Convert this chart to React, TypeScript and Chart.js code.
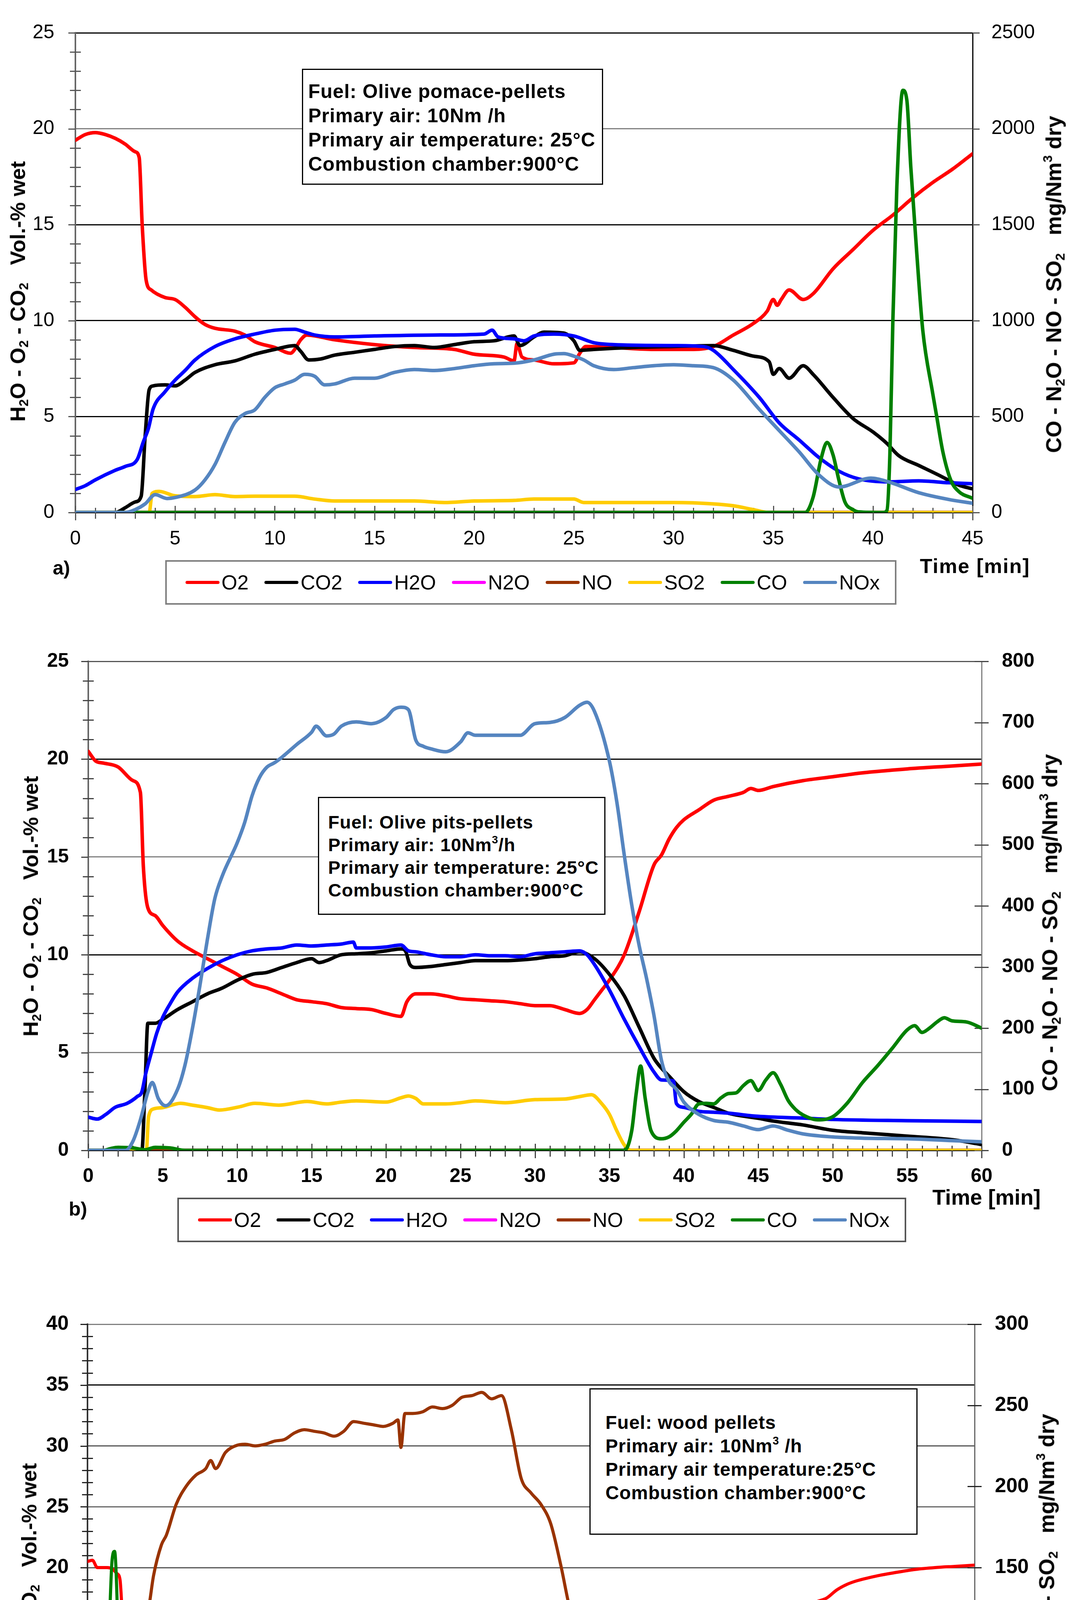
import { useEffect, useRef } from "react";
import { Chart, registerables } from "chart.js";

Chart.register(...registerables);

const FONT = "'Liberation Sans', Arial, Helvetica, sans-serif";
const PAGE_W = 2747;
const PAGE_H = 4847;

const COLORS: Record<string, string> = {
  O2: "#ff0000",
  CO2: "#000000",
  H2O: "#0000ff",
  N2O: "#ff00ff",
  NO: "#993300",
  SO2: "#ffcc00",
  CO: "#008000",
  NOx: "#5585c0",
};

// ---------- a) olive pomace pellets ----------
const aXTicks = [0, 5, 10, 15, 20, 25, 30, 35, 40, 45];
const aLeftTicks = [0, 5, 10, 15, 20, 25];
const aRightTicks = [0, 500, 1000, 1500, 2000, 2500];

const aO2T = [0, 0.5, 1, 1.5, 2, 2.5, 3, 3.2, 3.35, 3.55, 3.8, 4.5, 5, 5.5, 6, 6.5, 7, 8, 8.5, 9, 10, 10.8, 11, 11.3, 11.6, 13, 15, 17, 19, 20, 21.5, 22, 22.15, 22.4, 23, 24, 25, 25.3, 25.6, 27, 29, 31, 32, 33, 34, 34.7, 35, 35.2, 35.4, 35.8, 36.5, 37, 38, 39, 40, 41, 42, 43, 44, 45];
const aO2 = [19.4, 19.7, 19.8, 19.7, 19.5, 19.2, 18.8, 18.5, 15, 12.1, 11.6, 11.2, 11.1, 10.7, 10.2, 9.8, 9.6, 9.45, 9.25, 8.9, 8.6, 8.3, 8.5, 9.0, 9.25, 9.0, 8.75, 8.6, 8.5, 8.25, 8.1, 7.9, 8.8, 8.1, 7.95, 7.75, 7.8, 8.3, 8.65, 8.6, 8.5, 8.5, 8.65, 9.25, 9.85, 10.5, 11.1, 10.8, 11.1, 11.6, 11.1, 11.4, 12.7, 13.7, 14.7, 15.5, 16.4, 17.2, 17.9, 18.7];

const aCO2T = [0, 2, 2.5, 3, 3.3, 3.5, 3.7, 3.9, 4.5, 5, 5.5, 6, 7, 8, 9, 10, 11, 11.3, 11.7, 12.3, 13, 14, 15, 16, 17, 18, 19, 20, 21, 22, 22.3, 23, 23.5, 24.5, 25, 25.3, 26, 28, 30, 32, 33, 34, 34.8, 35, 35.3, 35.8, 36.5, 37, 38, 39, 40, 40.7, 41.3, 42.3, 43.3, 44.3, 45];
const aCO2 = [0, 0, 0.25, 0.55, 0.85, 4, 6.4, 6.6, 6.65, 6.6, 6.9, 7.3, 7.7, 7.9, 8.25, 8.5, 8.7, 8.4, 7.95, 8.0, 8.2, 8.35, 8.5, 8.65, 8.7, 8.6, 8.75, 8.9, 8.95, 9.2, 8.7, 9.15, 9.4, 9.35, 8.95, 8.45, 8.5, 8.6, 8.65, 8.7, 8.45, 8.15, 7.85, 7.2, 7.5, 7.0, 7.65, 7.2, 6.0, 4.9, 4.2, 3.6, 2.96, 2.45, 1.95, 1.43, 1.23];

const aH2OT = [0, 0.5, 1, 2, 2.5, 3.1, 3.4, 3.66, 3.9, 4.5, 5, 5.5, 6, 7, 8, 9, 10, 11, 11.5, 12, 13, 15, 18, 20.5, 20.9, 21.2, 22, 22.5, 23, 24, 25, 26, 27, 30, 31.5, 32, 33, 34.3, 35.3, 36.3, 37.3, 38.3, 39.3, 40.8, 42.3, 43.8, 45];
const aH2O = [1.2, 1.4, 1.7, 2.2, 2.4, 2.76, 3.66, 4.37, 5.4, 6.3, 6.9, 7.4, 7.95, 8.65, 9.05, 9.3, 9.5, 9.55, 9.4, 9.25, 9.15, 9.2, 9.25, 9.3, 9.5, 9.15, 9.05, 8.95, 9.2, 9.3, 9.2, 8.85, 8.75, 8.7, 8.65, 8.45, 7.45, 6.0, 4.67, 3.78, 2.86, 2.15, 1.75, 1.6, 1.65, 1.55, 1.5];

const aN2OT = [0, 45];
const aN2O = [0, 0];
const aNOT = [0, 45];
const aNO = [0, 0];

const aSO2T = [0, 3.7, 3.85, 4.2, 5, 6, 7, 8, 9, 11, 12, 13, 15, 17, 18.5, 20, 22, 23, 25, 25.5, 27, 30, 32, 33, 34, 34.8, 45];
const aSO2 = [0, 0, 100, 110, 87, 83, 93, 83, 85, 85, 70, 60, 60, 60, 52, 60, 63, 70, 70, 52, 52, 52, 45, 35, 15, 0, 0];

const aCOT = [0, 36.6, 37, 37.4, 37.7, 38, 38.3, 38.6, 39, 39.3, 40.5, 40.7, 40.85, 41, 41.2, 41.5, 41.7, 41.9, 42.2, 42.5, 43, 43.2, 43.5, 43.9, 44.3, 45];
const aCO = [0, 0, 80, 280, 365, 300, 166, 54, 15, 3, 0, 10, 300, 1000, 1700, 2200, 2150, 1800, 1350, 950, 620, 500, 320, 170, 110, 74];

const aNOxT = [0, 2.5, 3, 3.5, 4, 4.6, 5, 6, 6.5, 7, 7.5, 8, 8.5, 9, 9.5, 10, 10.5, 11, 11.5, 12, 12.5, 13, 14, 15, 16, 17, 18, 19, 20, 21, 22, 23, 24, 24.5, 25, 25.5, 26, 27, 28, 29, 30, 31, 32, 33, 34.3, 35.3, 36.3, 37.3, 38.3, 39.9, 40.8, 42.3, 43.8, 45];
const aNOx = [0, 0, 15, 45, 93, 73, 78, 117, 170, 250, 365, 470, 515, 535, 600, 650, 670, 690, 720, 710, 665, 670, 700, 700, 730, 745, 740, 750, 765, 775, 778, 795, 825, 828, 815, 795, 765, 745, 755, 765, 770, 765, 755, 690, 538, 427, 316, 195, 133, 179, 159, 103, 68, 48];

// ---------- b) olive pits pellets ----------
const bXTicks = [0, 5, 10, 15, 20, 25, 30, 35, 40, 45, 50, 55, 60];
const bLeftTicks = [0, 5, 10, 15, 20, 25];
const bRightTicks = [0, 100, 200, 300, 400, 500, 600, 700, 800];

const bO2T = [0, 0.5, 1, 2, 3, 3.5, 3.7, 4, 4.5, 5, 6, 7, 8, 9, 10, 11, 12, 13, 14, 15, 16, 17, 18, 19, 20, 21, 21.4, 22, 23, 24, 25, 26, 27, 28, 29, 30, 31, 32, 33, 33.5, 34, 34.5, 35, 36, 37, 38, 38.5, 39, 39.5, 40, 41, 42, 43, 44, 44.5, 45, 46, 48, 50, 52, 55, 58, 60];
const bO2 = [20.4, 19.9, 19.8, 19.6, 18.9, 18.3, 14.5, 12.4, 12.0, 11.5, 10.7, 10.2, 9.8, 9.4, 9.0, 8.5, 8.3, 8.0, 7.7, 7.6, 7.5, 7.3, 7.25, 7.2, 7.0, 6.85, 7.6, 8.0, 8.0, 7.9, 7.75, 7.7, 7.65, 7.6, 7.5, 7.4, 7.4, 7.2, 7.0, 7.2, 7.7, 8.2, 8.7, 10.0, 12.2, 14.6, 15.1, 15.9, 16.5, 16.9, 17.4, 17.9, 18.1, 18.3, 18.5, 18.4, 18.6, 18.9, 19.1, 19.3, 19.5, 19.65, 19.75];

const bCO2T = [0, 3.6, 3.8, 4, 4.5, 5, 6, 7, 8, 9, 10, 11, 12, 13, 14, 15, 15.5, 16, 17, 18, 19, 20, 21, 21.3, 21.6, 22, 23, 24, 25, 26, 28, 30, 31, 32, 33, 34, 35, 36, 37, 38, 38.5, 39, 40, 41, 42, 43, 44, 45, 46, 48, 50, 52, 55, 58, 60];
const bCO2 = [0, 0, 3.0, 6.5, 6.5, 6.7, 7.2, 7.6, 8.0, 8.3, 8.7, 9.0, 9.1, 9.35, 9.6, 9.8, 9.6, 9.7, 10.0, 10.05, 10.1, 10.2, 10.3, 10.2, 9.5, 9.35, 9.4, 9.5, 9.6, 9.7, 9.7, 9.8, 9.9, 9.95, 10.15, 9.8, 9.0, 7.9, 6.3, 4.7, 4.2, 3.8, 3.0, 2.5, 2.2, 1.9, 1.75, 1.64, 1.5, 1.3, 1.03, 0.9, 0.73, 0.55, 0.3];

const bH2OT = [0, 0.6, 1.2, 1.8, 2.6, 3.3, 3.6, 3.85, 4.2, 4.6, 5, 5.5, 6, 7, 8, 9, 10, 11, 12, 13, 14, 15, 16, 17, 17.8, 18, 19, 20, 21, 21.5, 22, 23, 24, 25, 26, 27, 28, 29, 30, 31, 32, 33, 33.5, 34, 35, 36, 37, 38, 38.5, 39.3, 39.5, 40, 41, 42, 43, 45, 48, 50, 55, 60];
const bH2O = [1.7, 1.6, 1.85, 2.2, 2.4, 2.76, 3.0, 3.9, 4.9, 6.0, 6.8, 7.5, 8.1, 8.8, 9.3, 9.7, 10.0, 10.2, 10.3, 10.35, 10.5, 10.45, 10.5, 10.55, 10.65, 10.35, 10.35, 10.4, 10.5, 10.2, 10.15, 10.0, 9.9, 9.9, 10.0, 9.95, 9.95, 9.9, 10.05, 10.1, 10.15, 10.2, 10.0, 9.5, 8.2, 6.7, 5.3, 4.0, 3.6, 3.55, 2.4, 2.2, 2.0, 1.95, 1.9, 1.74, 1.65, 1.58, 1.52, 1.48];

const bN2OT = [0, 60];
const bN2O = [0, 0];
const bNOT = [0, 60];
const bNO = [0, 0];

const bSO2T = [0, 3.9, 4.05, 4.4, 5, 6.2, 7, 8, 8.8, 10.1, 11.2, 12.8, 14.7, 16, 17, 18, 20, 21, 21.5, 22, 22.5, 24, 25, 26, 28, 30, 32, 33, 33.8, 34.5, 35, 35.5, 36, 36.5, 60];
const bSO2 = [0, 0, 55, 68, 70, 77, 74, 70, 66, 71, 77, 74, 80, 76, 79, 81, 79, 86, 89, 85, 76, 76, 78, 81, 78, 83, 84, 88, 91, 76, 59, 32, 9, 0, 0];

const bCOT = [0, 1, 1.5, 2, 3, 3.8, 4.5, 5.5, 6.5, 36, 36.5, 36.8, 37.1, 37.4, 37.8, 38.5, 39, 39.5, 40, 40.5, 41, 41.5, 42, 42.5, 43, 43.5, 44, 44.5, 45, 45.5, 46, 46.5, 47, 47.5, 48, 49, 50, 51, 52, 53, 54, 55, 55.5, 56, 56.5, 57, 57.5, 58, 59, 60];
const bCO = [0, 0, 3, 5, 4, 1, 5, 4, 0, 0, 32, 93, 138, 86, 32, 19, 22, 32, 46, 59, 76, 77, 76, 86, 93, 94, 106, 114, 98, 115, 127, 108, 82, 67, 58, 50, 55, 78, 111, 138, 167, 197, 204, 193, 200, 210, 217, 212, 210, 200];

const bNOxT = [0, 2.5, 3, 3.5, 4, 4.3, 4.7, 5.2, 6, 6.5, 7, 7.5, 8, 8.5, 9, 10, 10.5, 11, 11.5, 12, 12.5, 13, 14, 15, 15.3, 16, 16.5, 17, 18, 19, 20, 20.5, 21, 21.5, 22, 22.5, 23, 24, 25, 25.5, 26, 27, 28, 29, 30, 31, 32, 33, 33.5, 34, 35, 35.5, 36, 36.5, 37, 37.5, 38, 38.5, 39, 39.5, 40, 41, 42, 43, 44, 45, 46, 47, 48, 50, 52, 55, 58, 60];
const bNOx = [0, 0, 15, 50, 95, 111, 85, 73, 100, 140, 200, 270, 345, 412, 449, 503, 536, 580, 610, 627, 634, 643, 664, 684, 694, 678, 681, 694, 701, 698, 708, 721, 725, 721, 671, 661, 657, 652, 668, 683, 679, 679, 679, 679, 698, 700, 708, 728, 733, 718, 637, 570, 483, 402, 335, 281, 220, 147, 113, 100, 79, 59, 49, 46, 40, 34, 40, 33, 27, 22, 20, 19, 16, 14];

// ---------- c) wood pellets ----------
const cXTicks = [0, 5, 10, 15, 20, 25, 30, 35, 40, 45, 50, 55, 60, 65, 70, 75, 80, 85, 90];
const cLeftTicks = [0, 5, 10, 15, 20, 25, 30, 35, 40];
const cRightTicks = [0, 50, 100, 150, 200, 250, 300];

const cO2T = [0, 0.5, 1, 2, 2.5, 3, 3.3, 3.6, 4, 4.5, 5, 5.5, 6, 7, 8, 9, 10, 11, 12, 12.8, 13.5, 15, 18, 20, 22, 25, 26, 28, 30, 31.5, 31.8, 32, 33, 35, 37, 38, 39, 40, 41, 41.5, 42, 43, 44, 45, 46, 47, 48, 49, 50, 51, 52, 53, 54, 55, 56, 57, 58, 59, 60, 61, 62, 63, 64, 65, 66, 67, 68, 69, 70, 71, 72, 73, 74, 75, 76, 77, 78, 80, 82, 84, 86, 88, 90];
const cO2 = [20.5, 20.6, 20.0, 20.0, 19.9, 19.5, 19.0, 15, 10.5, 9.4, 9.7, 9.6, 9.1, 8.6, 8.1, 7.8, 7.5, 7.35, 6.9, 7.1, 6.8, 6.7, 6.6, 6.4, 6.3, 6.15, 5.95, 5.9, 5.8, 5.8, 7.2, 5.7, 5.6, 5.55, 5.45, 5.3, 5.15, 5.4, 5.05, 4.85, 5.05, 5.55, 6.05, 6.3, 6.55, 7.2, 7.7, 8.35, 9.0, 9.3, 9.9, 10.15, 10.6, 11.05, 11.45, 11.5, 11.6, 11.95, 12.6, 12.9, 13.25, 13.55, 13.9, 14.2, 14.55, 14.9, 15.3, 15.55, 15.85, 16.2, 16.5, 16.85, 17.2, 17.5, 18.15, 18.6, 18.9, 19.3, 19.6, 19.85, 20.0, 20.1, 20.2];

const cCO2T = [0, 2.5, 3, 3.3, 3.6, 4, 4.5, 5, 6, 7, 8, 9, 10, 11, 12, 13, 14, 15, 17, 20, 22, 24, 25, 26, 28, 30, 31.5, 31.8, 32.2, 34, 36, 38, 40, 41, 42, 43, 44, 45, 46, 47, 48, 49, 50, 51, 52, 52.5, 53, 54, 55, 56, 57, 58, 59, 60, 61, 62, 63, 64, 65, 66, 68, 70, 72, 74, 76, 78, 80, 82, 84, 86, 88, 90];
const cCO2 = [0.1, 0.1, 0.3, 0.6, 1.3, 5, 7.8, 8.4, 8.8, 9.3, 9.6, 9.9, 10.05, 10.4, 10.7, 10.8, 10.9, 11.05, 11.15, 11.3, 11.3, 11.25, 11.0, 11.3, 11.4, 11.4, 11.3, 10.4, 11.5, 11.6, 11.7, 11.85, 12.1, 11.95, 12.35, 12.15, 11.95, 11.7, 11.5, 11.4, 10.95, 10.45, 10.0, 9.5, 9.0, 8.7, 8.85, 9.1, 8.5, 7.9, 7.8, 7.7, 7.35, 7.05, 6.7, 6.55, 6.3, 6.05, 5.7, 5.4, 4.75, 4.1, 3.35, 2.6, 1.95, 1.45, 1.15, 0.9, 0.65, 0.5, 0.4, 0.35];

const cH2OT = [0, 1.2, 2, 2.8, 3.2, 3.7, 4.2, 4.5, 4.8, 5, 6, 7, 8, 9, 10, 11, 12, 13, 14, 15, 17, 20, 22, 25, 27, 30, 31.5, 31.8, 32, 34, 36, 38, 40, 41, 42, 43, 44, 45, 46, 47, 48, 49, 50, 51, 52, 53, 54, 55, 56, 57, 58, 59, 60, 61, 62, 64, 66, 70, 75, 80, 85, 90];
const cH2O = [1.2, 0.96, 1.5, 2.05, 3.2, 5.8, 7.4, 8.0, 8.45, 8.7, 9.3, 9.75, 10.1, 10.4, 10.75, 10.9, 11.1, 11.2, 11.35, 11.45, 11.55, 11.6, 11.7, 11.6, 11.75, 11.85, 11.9, 11.6, 11.85, 12.0, 12.1, 12.2, 12.25, 12.0, 12.0, 11.45, 10.8, 10.15, 9.5, 8.65, 7.7, 6.85, 6.05, 5.3, 4.75, 4.6, 4.25, 3.85, 3.6, 3.35, 3.1, 2.7, 2.1, 1.75, 1.45, 1.25, 1.1, 1.1, 1.1, 1.0, 0.9, 0.75];

const cN2OT = [0, 3, 3.5, 4, 4.5, 5.5, 6, 7, 8, 9, 10, 12, 15, 20, 25, 30, 35, 40, 45, 50, 55, 58, 60, 65, 70, 75, 80, 85, 90];
const cN2O = [49, 49, 52, 56, 57, 59, 57, 53, 50.5, 49, 48.5, 48, 48.5, 48, 47.8, 47, 46.6, 45.6, 45.4, 45.4, 45.9, 46.6, 44.9, 44.1, 43.7, 42.9, 42.4, 41.7, 40.5];

const cNOT = [0, 1.5, 2.5, 3.2, 3.6, 3.9, 4.2, 4.5, 4.7, 5.2, 5.7, 6.2, 6.7, 7.5, 8, 9, 10, 11, 12, 12.5, 13, 14, 15, 16, 17, 18, 19, 20, 21, 22, 23, 24, 25, 26, 27, 28, 29, 30, 31, 31.5, 31.8, 32.2, 33, 34, 35, 36, 37, 38, 39, 40, 41, 42, 43, 44, 45, 46, 47, 48, 49, 50, 51, 52, 53, 54, 55, 56, 57, 58, 59, 60, 61, 62, 63, 64, 65, 66, 67, 68, 70, 72, 74, 76, 78, 80, 82, 84, 86, 88, 90];
const cNO = [2, 2.5, 3, 6.7, 11.5, 40, 100, 120, 124, 119, 116, 125, 145, 164, 170, 189, 200, 207, 211, 216, 211, 221, 225, 226, 225, 226, 228, 229, 233, 235, 234, 233, 231, 234, 240, 239, 238, 237, 239, 241, 224, 245, 245, 246, 249, 248, 250, 255, 256, 258, 254, 256, 235, 205, 196, 189, 177, 152, 123, 105, 91, 78, 73, 81, 69, 61, 58, 54, 45, 32, 29, 31, 32, 31, 32, 31, 29, 28, 26.5, 24, 21, 20, 14.7, 13.5, 11.8, 10.3, 9.3, 7.8, 6.6];

const cSO2T = [0, 1, 2, 3, 3.9, 4.2, 4.5, 4.8, 5.1, 6.1, 7.1, 7.9, 8.5, 9.4, 10.5, 11.4, 12.2, 13, 13.8, 15, 16.4, 17.4, 18.6, 19.6, 20.8, 21.4, 22.7, 24, 25, 26, 27, 28, 29, 30, 31, 32, 33, 33.5, 34, 35, 36, 37, 38, 39, 40, 41, 42, 43, 44, 45, 46, 47, 48, 49, 50, 51, 52, 53, 54, 55, 56, 57, 58, 60, 62, 64, 66, 70, 75, 80, 85, 88, 90];
const cSO2 = [12, 12, 11, 10, 10, 10, 55, 80, 84, 73, 81.6, 82.7, 79.5, 83, 78, 73, 74.5, 80, 73, 70, 67, 63.8, 58.5, 61.5, 58, 60, 58, 56, 54, 58, 59, 60.6, 62, 60, 59, 60, 72, 66, 62.5, 64, 64, 65, 66, 70, 73.5, 74, 80, 78.5, 81, 69, 56, 51.5, 48, 44, 39, 34, 29, 25, 25, 23, 21, 19.6, 17.7, 15.2, 13.5, 12.3, 11, 11.3, 11.8, 12.8, 12.3, 12.8, 13.2];

const cCOT = [0, 0.6, 1, 1.6, 1.9, 2.2, 2.5, 2.75, 3.0, 3.25, 3.45, 3.6, 3.8, 4.1, 4.5, 6, 10, 20, 30, 40, 50, 57, 58, 59, 60, 61, 62, 63, 63.5, 64, 64.5, 65, 65.5, 66, 66.5, 67, 70, 73, 76, 78, 80, 82, 84, 86, 88, 90];
const cCO = [5, 7, 5, 3, 40, 110, 155, 160, 130, 60, 35, 36, 25, 9, 7.5, 5.6, 4.3, 4.5, 4.5, 5, 4.5, 4.5, 7.4, 9.8, 17, 39, 74, 98, 100, 112, 88, 51.5, 17, 23, 9.8, 7.4, 4.2, 5, 5.4, 6.6, 7.8, 9.8, 14.7, 18.4, 23, 27];

type Line = { name: string; t: number[]; v: number[]; axis: "y" | "y1" };

type Panel = {
  canvasTop: number;
  canvasH: number;
  left: number;
  right: number;
  top: number;
  bottom: number;
  xTicks: number[];
  yTicks: number[];
  y1Ticks: number[];
  gridColors: string[];
  lines: Line[];
  tickSize: number;
  tickWeight: string;
  padX: number;
  padY: number;
  padY1: number;
  lineWidth: number;
  leftBorder: string;
  rightBorder: string;
  rightIn: number;
  tickColor: string;
};

const panelA: Panel = {
  canvasTop: 0, canvasH: 1420, left: 193, right: 2490, top: 54, bottom: 1312,
  xTicks: aXTicks, yTicks: aLeftTicks, y1Ticks: aRightTicks,
  gridColors: ["rgba(0,0,0,0)", "#000", "#000", "#000", "#808080", "#000"],
  lines: [
    { name: "O2", t: aO2T, v: aO2, axis: "y" },
    { name: "CO2", t: aCO2T, v: aCO2, axis: "y" },
    { name: "H2O", t: aH2OT, v: aH2O, axis: "y" },
    { name: "N2O", t: aN2OT, v: aN2O, axis: "y1" },
    { name: "NO", t: aNOT, v: aNO, axis: "y1" },
    { name: "SO2", t: aSO2T, v: aSO2, axis: "y1" },
    { name: "CO", t: aCOT, v: aCO, axis: "y1" },
    { name: "NOx", t: aNOxT, v: aNOx, axis: "y1" },
  ],
  tickSize: 50, tickWeight: "normal", padX: 38, padY: 54, padY1: 48, lineWidth: 9,
  leftBorder: "#666", rightBorder: "#000", rightIn: 0, tickColor: "#555",
};

const panelB: Panel = {
  canvasTop: 1600, canvasH: 1450, left: 226, right: 2513, top: 1693, bottom: 2945,
  xTicks: bXTicks, yTicks: bLeftTicks, y1Ticks: bRightTicks,
  gridColors: ["rgba(0,0,0,0)", "#808080", "#000", "#808080", "#000", "#555"],
  lines: [
    { name: "O2", t: bO2T, v: bO2, axis: "y" },
    { name: "CO2", t: bCO2T, v: bCO2, axis: "y" },
    { name: "H2O", t: bH2OT, v: bH2O, axis: "y" },
    { name: "N2O", t: bN2OT, v: bN2O, axis: "y1" },
    { name: "NO", t: bNOT, v: bNO, axis: "y1" },
    { name: "SO2", t: bSO2T, v: bSO2, axis: "y1" },
    { name: "CO", t: bCOT, v: bCO, axis: "y1" },
    { name: "NOx", t: bNOxT, v: bNOx, axis: "y1" },
  ],
  tickSize: 50, tickWeight: "bold", padX: 37, padY: 50, padY1: 52, lineWidth: 9,
  leftBorder: "#666", rightBorder: "#808080", rightIn: 18, tickColor: "#444",
};

const panelC: Panel = {
  canvasTop: 3300, canvasH: 1450, left: 224, right: 2495, top: 3390, bottom: 4636,
  xTicks: cXTicks, yTicks: cLeftTicks, y1Ticks: cRightTicks,
  gridColors: ["rgba(0,0,0,0)", "#808080", "#000", "#555", "#555", "#666", "#555", "#000", "#808080"],
  lines: [
    { name: "O2", t: cO2T, v: cO2, axis: "y" },
    { name: "CO2", t: cCO2T, v: cCO2, axis: "y" },
    { name: "H2O", t: cH2OT, v: cH2O, axis: "y" },
    { name: "N2O", t: cN2OT, v: cN2O, axis: "y1" },
    { name: "NO", t: cNOT, v: cNO, axis: "y1" },
    { name: "SO2", t: cSO2T, v: cSO2, axis: "y1" },
    { name: "CO", t: cCOT, v: cCO, axis: "y1" },
  ],
  tickSize: 52, tickWeight: "bold", padX: 34, padY: 48, padY1: 52, lineWidth: 8,
  leftBorder: "#333", rightBorder: "#666", rightIn: 18, tickColor: "#222",
};

// minor / crossing tick marks like the spreadsheet axes
const tickMarks = {
  id: "tickMarks",
  beforeDatasetsDraw(chart: any, _args: any, o: any) {
    const { ctx, chartArea: ca, scales } = chart;
    ctx.save();
    ctx.strokeStyle = o.color;
    ctx.lineWidth = 3;
    ctx.beginPath();
    for (let v = 0; v <= o.yMax; v++) {
      const py = Math.round(scales.y.getPixelForValue(v)) + 0.5;
      if (v % 5 === 0) {
        ctx.moveTo(ca.left - 18, py);
        ctx.lineTo(ca.left, py);
      } else {
        ctx.moveTo(ca.left - 14, py);
        ctx.lineTo(ca.left + 14, py);
      }
    }
    for (let t = 0; t <= o.xMax; t++) {
      const px = Math.round(scales.x.getPixelForValue(t)) + 0.5;
      const major = t % 5 === 0;
      ctx.moveTo(px, ca.bottom - (major ? 17 : 12));
      ctx.lineTo(px, ca.bottom + (major ? 20 : 16));
    }
    for (const v of o.y1Ticks) {
      const py = Math.round(scales.y1.getPixelForValue(v)) + 0.5;
      ctx.moveTo(ca.right - o.rightIn, py);
      ctx.lineTo(ca.right + 18, py);
    }
    ctx.stroke();
    ctx.restore();
  },
};

function makeConfig(p: Panel): any {
  const n = p.lines.length;
  const font = { family: FONT, size: p.tickSize, weight: p.tickWeight };
  const fixTicks = (vals: number[]) => (s: any) => {
    s.ticks = vals.map((value) => ({ value }));
  };
  const xMax = p.xTicks[p.xTicks.length - 1];
  const yMax = p.yTicks[p.yTicks.length - 1];
  const y1Max = p.y1Ticks[p.y1Ticks.length - 1];
  return {
    type: "line",
    data: {
      datasets: p.lines.map((l, i) => ({
        label: l.name,
        data: l.t.map((x, j) => ({ x, y: l.v[j] })),
        yAxisID: l.axis,
        borderColor: COLORS[l.name],
        backgroundColor: COLORS[l.name],
        borderWidth: p.lineWidth,
        pointRadius: 0,
        cubicInterpolationMode: "monotone",
        borderCapStyle: "round",
        borderJoinStyle: "round",
        fill: false,
        order: n - i,
      })),
    },
    options: {
      animation: false,
      responsive: false,
      maintainAspectRatio: false,
      devicePixelRatio: 1,
      events: [],
      layout: { padding: { top: p.top - p.canvasTop, left: 0, right: 0, bottom: 0 } },
      plugins: {
        legend: { display: false },
        tooltip: { enabled: false },
        tickMarks: { xMax, yMax, y1Ticks: p.y1Ticks, color: p.tickColor, rightIn: p.rightIn },
      },
      scales: {
        x: {
          type: "linear",
          min: 0,
          max: xMax,
          afterBuildTicks: fixTicks(p.xTicks),
          afterFit: (s: any) => {
            s.height = p.canvasTop + p.canvasH - p.bottom;
          },
          grid: { display: false, drawTicks: false },
          border: { display: true, color: "#000", width: 3 },
          ticks: { font, color: "#000", padding: p.padX, maxRotation: 0, autoSkip: false, callback: (v: any) => String(v) },
        },
        y: {
          type: "linear",
          position: "left",
          min: 0,
          max: yMax,
          afterBuildTicks: fixTicks(p.yTicks),
          afterFit: (s: any) => {
            s.width = p.left;
          },
          grid: {
            color: (c: any) => p.gridColors[c.index] ?? "#000",
            lineWidth: 3,
            drawTicks: false,
          },
          border: { display: true, color: p.leftBorder, width: 4 },
          ticks: { font, color: "#000", padding: p.padY, autoSkip: false, callback: (v: any) => String(v) },
        },
        y1: {
          type: "linear",
          position: "right",
          min: 0,
          max: y1Max,
          afterBuildTicks: fixTicks(p.y1Ticks),
          afterFit: (s: any) => {
            s.width = PAGE_W - p.right;
          },
          grid: { display: false, drawTicks: false },
          border: { display: true, color: p.rightBorder, width: 3 },
          ticks: { font, color: "#000", padding: p.padY1, autoSkip: false, callback: (v: any) => String(v) },
        },
      },
    },
    plugins: [tickMarks],
  };
}

function PanelChart({ p }: { p: Panel }) {
  const ref = useRef<HTMLCanvasElement | null>(null);
  useEffect(() => {
    const canvas = ref.current;
    if (!canvas) return;
    const chart = new Chart(canvas, makeConfig(p));
    return () => {
      chart.destroy();
    };
  }, [p]);
  return (
    <canvas
      ref={ref}
      width={PAGE_W}
      height={p.canvasH}
      style={{ position: "absolute", left: 0, top: p.canvasTop, width: PAGE_W, height: p.canvasH }}
    />
  );
}

const sub = { fontSize: "0.62em", verticalAlign: "-0.25em", lineHeight: 0 };
const sup = { fontSize: "0.6em", verticalAlign: "0.7em", lineHeight: 0 };

function VTitle({ x, y, size, children }: { x: number; y: number; size: number; children: any }) {
  return (
    <div
      style={{
        position: "absolute",
        left: x,
        top: y,
        transform: "translate(-50%, -50%) rotate(-90deg)",
        whiteSpace: "nowrap",
        font: `bold ${size}px ${FONT}`,
        lineHeight: 1,
        color: "#000",
      }}
    >
      {children}
    </div>
  );
}

const LeftTitle = () => (
  <>
    H<span style={sub}>2</span>O - O<span style={sub}>2</span> - CO<span style={sub}>2</span>
    {"\u00a0\u00a0\u00a0"}Vol.-% wet
  </>
);
const RightTitle = () => (
  <>
    CO - N<span style={sub}>2</span>O - NO - SO<span style={sub}>2</span>
    {"\u00a0\u00a0\u00a0"}mg/Nm<span style={sup}>3</span> dry
  </>
);

function Label({ x, y, size, children, spacing = 0 }: { x: number; y: number; size: number; children: any; spacing?: number }) {
  return (
    <div
      style={{
        position: "absolute",
        left: x,
        top: y - size / 2,
        font: `bold ${size}px ${FONT}`,
        lineHeight: `${size}px`,
        letterSpacing: spacing,
        whiteSpace: "nowrap",
        color: "#000",
      }}
    >
      {children}
    </div>
  );
}

function InfoBox({ x, y, w, h, padL, padT, size, lh, lines }: { x: number; y: number; w: number; h: number; padL: number; padT: number; size: number; lh: number; lines: any[] }) {
  return (
    <div
      style={{
        position: "absolute",
        left: x,
        top: y,
        width: w,
        height: h,
        boxSizing: "border-box",
        border: "3px solid #000",
        background: "#fff",
        paddingLeft: padL,
        paddingTop: padT,
        font: `bold ${size}px ${FONT}`,
        lineHeight: `${lh}px`,
        letterSpacing: 1,
        whiteSpace: "nowrap",
        color: "#000",
      }}
    >
      {lines.map((l, i) => (
        <div key={i}>{l}</div>
      ))}
    </div>
  );
}

function Legend({ x, y, w, h, names, padL, gap, size, sample, border }: { x: number; y: number; w: number; h: number; names: string[]; padL: number; gap: number; size: number; sample: number; border: string }) {
  return (
    <div
      style={{
        position: "absolute",
        left: x,
        top: y,
        width: w,
        height: h,
        boxSizing: "border-box",
        border: `4px solid ${border}`,
        background: "#fff",
        display: "flex",
        alignItems: "center",
        paddingLeft: padL,
        gap,
        font: `${size}px ${FONT}`,
        color: "#000",
        whiteSpace: "nowrap",
      }}
    >
      {names.map((nm) => (
        <div key={nm} style={{ display: "flex", alignItems: "center" }}>
          <div style={{ width: sample, height: 8, borderRadius: 4, background: COLORS[nm], marginRight: 5 }} />
          <span style={{ lineHeight: 1 }}>{nm}</span>
        </div>
      ))}
    </div>
  );
}

const legendAB = ["O2", "CO2", "H2O", "N2O", "NO", "SO2", "CO", "NOx"];
const legendC = ["O2", "CO2", "H2O", "N2O", "NO", "SO2", "CO"];

export default function App() {
  return (
    <div
      style={{
        position: "absolute",
        left: 0,
        top: 0,
        width: PAGE_W,
        height: PAGE_H,
        background: "#fff",
        overflow: "hidden",
        fontFamily: FONT,
      }}
    >
      <PanelChart p={panelA} />
      <PanelChart p={panelB} />
      <PanelChart p={panelC} />

      {/* a) */}
      <VTitle x={45} y={746} size={54}><LeftTitle /></VTitle>
      <VTitle x={2698} y={728} size={55}><RightTitle /></VTitle>
      <InfoBox
        x={773} y={176} w={771} h={297} padL={13} padT={24} size={50} lh={62}
        lines={[
          "Fuel: Olive pomace-pellets",
          "Primary air: 10Nm /h",
          "Primary air temperature: 25°C",
          "Combustion chamber:900°C",
        ]}
      />
      <Label x={135} y={1454} size={50}>a)</Label>
      <Label x={2355} y={1449} size={52} spacing={2}>Time [min]</Label>
      <Legend x={423} y={1434} w={1872} h={114} names={legendAB} padL={48} gap={41} size={52} sample={87} border="#7f7f7f" />

      {/* b) */}
      <VTitle x={78} y={2320} size={54}><LeftTitle /></VTitle>
      <VTitle x={2688} y={2362} size={55}><RightTitle /></VTitle>
      <InfoBox
        x={814} y={2040} w={736} h={302} padL={23} padT={33} size={47} lh={58}
        lines={[
          "Fuel: Olive pits-pellets",
          <>Primary air: 10Nm<span style={sup}>3</span>/h</>,
          "Primary air temperature: 25°C",
          "Combustion chamber:900°C",
        ]}
      />
      <Label x={176} y={3095} size={50}>b)</Label>
      <Label x={2387} y={3065} size={55}>Time [min]</Label>
      <Legend x={454} y={3066} w={1866} h={114} names={legendAB} padL={49} gap={40} size={52} sample={87} border="#555" />

      {/* c) */}
      <VTitle x={74} y={4079} size={54}><LeftTitle /></VTitle>
      <VTitle x={2680} y={4051} size={55}><RightTitle /></VTitle>
      <InfoBox
        x={1509} y={3554} w={840} h={375} padL={38} padT={55} size={48} lh={60}
        lines={[
          "Fuel: wood pellets",
          <>Primary air: 10Nm<span style={sup}>3</span> /h</>,
          "Primary air temperature:25°C",
          "Combustion chamber:900°C",
        ]}
      />
      <Label x={156} y={4784} size={50}>c)</Label>
      <Label x={2307} y={4774} size={55}>Time [min]</Label>
      <Legend x={592} y={4754} w={1560} h={82} names={legendC} padL={41} gap={40} size={50} sample={82} border="#555" />
    </div>
  );
}
